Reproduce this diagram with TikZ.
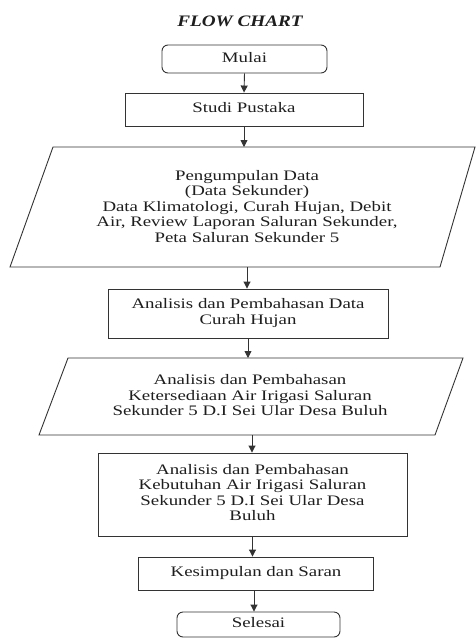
\documentclass[tikz,border=0pt]{standalone}
\usepackage{fontspec}
\setmainfont{Liberation Serif}
\usetikzlibrary{arrows.meta}
\newcommand{\wtext}[1]{\scalebox{1.3}[1]{\begin{tabular}{@{}c@{}}#1\end{tabular}}}
\definecolor{ink}{HTML}{333333}
\definecolor{txt}{HTML}{1E1E1E}
\begin{document}
\begin{tikzpicture}[x=1pt,y=-1pt,
  every node/.style={font=\fontsize{14.5}{15.5}\selectfont, inner sep=0pt, text=txt},
  shape line/.style={draw=ink, line width=0.9pt},
  arr/.style={draw=ink, line width=0.9pt, -{Triangle[length=7pt,width=7pt]}},
  rbox/.style={shape line, rectangle, rounded corners=6pt},
  sbox/.style={shape line, rectangle}]
\useasboundingbox (0,0) rectangle (476,638);
\fill[white] (0,0) rectangle (476,638);

% title
\node (title) at (240,21) {\scalebox{1.2}[1]{\fontsize{16}{18}\selectfont\bfseries\itshape FLOW CHART}};

% Mulai
\node[rbox, minimum width=165pt, minimum height=28pt] (mulai) at (244.5,59) {\wtext{Mulai}};
% Studi Pustaka
\node[sbox, minimum width=238pt, minimum height=33pt] (studi) at (244,109.5) {\wtext{Studi Pustaka}};

% Pengumpulan data parallelogram
\draw[shape line] (53,147) -- (475,147) -- (440,267) -- (10,267) -- cycle;
\coordinate (p1top) at (246,147);
\coordinate (p1bot) at (247,267);
\node (p1) at (247,208) {\wtext{Pengumpulan Data\\(Data Sekunder)\\Data Klimatologi, Curah Hujan, Debit\\Air, Review Laporan Saluran Sekunder,\\Peta Saluran Sekunder 5}};

% Curah hujan box
\node[sbox, minimum width=280pt, minimum height=49pt] (curah) at (248,313.5) {\wtext{Analisis dan Pembahasan Data\\Curah Hujan}};

% Ketersediaan parallelogram
\draw[shape line] (68,358) -- (463,358) -- (435,435) -- (39,435) -- cycle;
\coordinate (p2top) at (248,358);
\coordinate (p2bot) at (252,435);
\node (p2) at (250,397) {\wtext{Analisis dan Pembahasan\\Ketersediaan Air Irigasi Saluran\\Sekunder 5 D.I Sei Ular Desa Buluh}};

% Kebutuhan box
\node[sbox, minimum width=309pt, minimum height=83pt] (butuh) at (252.5,494.5) {\wtext{Analisis dan Pembahasan\\Kebutuhan Air Irigasi Saluran\\Sekunder 5 D.I Sei Ular Desa\\Buluh}};

% Kesimpulan
\node[sbox, minimum width=235pt, minimum height=33pt] (simpul) at (256,573.5) {\wtext{Kesimpulan dan Saran}};

% Selesai
\node[rbox, minimum width=163pt, minimum height=25pt] (selesai) at (258.5,624.5) {\wtext{Selesai}};

% connectors
\draw[arr] (mulai.south) -- (studi.north);
\draw[arr] (studi.south) -- (studi.south |- p1top);
\draw[arr] (p1bot) -- (p1bot |- curah.north);
\draw[arr] (curah.south) -- (curah.south |- p2top);
\draw[arr] (p2bot) -- (p2bot |- butuh.north);
\draw[arr] (butuh.south) -- (butuh.south |- simpul.north);
\draw[arr] (simpul.south -| 254,0) -- (254,0 |- selesai.north);
\end{tikzpicture}
\end{document}
